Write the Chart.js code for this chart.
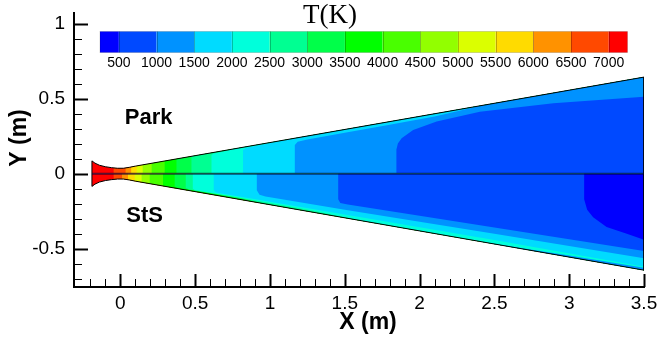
<!DOCTYPE html>
<html>
<head>
<meta charset="utf-8">
<script src="https://cdn.jsdelivr.net/npm/chart.js@4.4.0/dist/chart.umd.min.js"></script>
<style>
  body { margin: 0; background: #fff; }
  #wrap { width: 658px; height: 343px; }
</style>
</head>
<body>
<div id="wrap"><canvas id="myChart"></canvas></div>
<script>
// contour levels of T (K), one boundary between two colour bands each
const levels = [500, 1000, 1500, 2000, 2500, 3000, 3500, 4000, 4500, 5000, 5500, 6000, 6500, 7000];
// band colours, coldest (< 500 K) to hottest (> 7000 K)
const bandColors = ["#0000ff", "#0049ff", "#0092ff", "#00dbff", "#00ffdb", "#00ff92", "#00ff49",
  "#00ff00", "#49ff00", "#92ff00", "#dbff00", "#ffdb00", "#ff9200", "#ff4900", "#ff0000"];

// nozzle wall: radius (m) against axial position (m)
const wallX = [-0.19, -0.17, -0.14, -0.1, -0.06, -0.02, 0.02, 0.06, 0.1, 3.5];
const wallR = [0.085, 0.07, 0.056, 0.046, 0.04, 0.036, 0.036, 0.042, 0.05, 0.643];

// isotherms in the upper half (Park model), index = levels index
// [x, y] in m, y null = point sits on the wall
const parkEdges = [
  null,
  [[1.845, 0], [1.845, 0.16], [1.855, 0.2], [1.88, 0.235], [1.957, 0.29], [2.114, 0.347], [2.403, 0.413], [2.894, 0.469], [3.5, 0.513]],
  [[1.166, 0], [1.166, 0.19], [1.185, 0.213], [1.25, 0.228], [1.5, 0.272], [1.8, 0.325], [2.1, 0.38], [2.41, null]],
  [[0.82, 0], [0.82, 0.158], [0.84, 0.171], [0.9, 0.183], [1.2, null]],
  [[0.609, 0], [0.609, 0.125], [0.625, 0.135], [0.7, 0.15], [0.75, null]],
  [[0.475, 0], [0.475, null]],
  [[0.375, 0], [0.375, null]],
  [[0.296, 0], [0.296, null]],
  [[0.209, 0], [0.209, null]],
  [[0.149, 0], [0.149, null]],
  [[0.109, 0], [0.109, null]],
  [[0.072, 0], [0.072, null]],
  [[0.035, 0], [0.035, null]],
  [[-0.045, 0], [-0.045, null]]
];

// isotherms in the lower half (StS model)
const stsEdges = [
  [[3.1, 0], [3.1, -0.17], [3.12, -0.24], [3.16, -0.29], [3.25, -0.355], [3.385, -0.4], [3.5, -0.44]],
  [[1.456, 0], [1.456, -0.17], [1.47, -0.195], [1.52, -0.205], [2.0, -0.28], [2.67, -0.385], [3.5, -0.515]],
  [[0.912, 0], [0.912, -0.11], [0.93, -0.14], [0.97, -0.152], [1.5, -0.24], [2.5, -0.4], [3.5, -0.564]],
  [[0.624, 0], [0.624, -0.11], [0.64, -0.125], [0.7, -0.136], [1.5, -0.272], [2.5, -0.442], [3.5, -0.62]],
  [[0.484, 0], [0.484, -0.1], [0.5, -0.11], [0.7, -0.144], [1.0, -0.196], [1.3, -0.248], [1.6, null]],
  [[0.437, 0], [0.437, -0.095], [0.46, -0.105], [0.6, -0.128], [0.8, -0.16], [0.95, null]],
  [[0.363, 0], [0.363, -0.085], [0.38, -0.093], [0.5, -0.114], [0.65, -0.14], [0.78, null]],
  [[0.285, 0], [0.285, null]],
  [[0.196, 0], [0.196, null]],
  [[0.142, 0], [0.142, null]],
  [[0.096, 0], [0.096, null]],
  [[0.051, 0], [0.051, null]],
  [[0.011, 0], [0.011, null]],
  [[-0.045, 0], [-0.045, null]]
];
// cooler film (1000-1500 K) on the lower wall near the exit
const stsFilm = [[2.4, null], [3.0, -0.546], [3.5, -0.627], [3.5, null]];

const xTicks = [0, 0.5, 1, 1.5, 2, 2.5, 3, 3.5];
const yTicks = [-0.5, 0, 0.5, 1];

const FONT = "'Liberation Sans', Arial, sans-serif";
const exitX = wallX[wallX.length - 1];

function wallAt(x) {
  for (let i = 1; i < wallX.length; i++) {
    if (x <= wallX[i]) {
      const t = (x - wallX[i - 1]) / (wallX[i] - wallX[i - 1]);
      return wallR[i - 1] + t * (wallR[i] - wallR[i - 1]);
    }
  }
  return wallR[wallR.length - 1];
}

function toPoints(list, sign) {
  return list.map((p) => ({ x: p[0], y: p[1] === null ? sign * wallAt(p[0]) : p[1] }));
}

// closed outline of everything downstream / inside an isotherm
function region(edge, sign) {
  const pts = toPoints(edge, sign);
  const last = pts[pts.length - 1];
  if (last.x < exitX) {
    wallX.forEach((x, i) => {
      if (x > last.x) pts.push({ x: x, y: sign * wallR[i] });
    });
  }
  pts.push({ x: exitX, y: 0 });
  pts.push({ x: pts[0].x, y: pts[0].y });
  return pts;
}

function patch(pts, color) {
  return {
    data: pts,
    showLine: true,
    fill: "shape",
    backgroundColor: color,
    borderWidth: 0,
    pointRadius: 0,
  };
}

// hottest first, colder bands painted over them
const layers = [];
[[parkEdges, 1], [stsEdges, -1]].forEach(([edges, sign]) => {
  layers.push(patch(region([[wallX[0], 0], [wallX[0], null]], sign), bandColors[14]));
  for (let i = levels.length - 1; i >= 0; i--) {
    if (edges[i]) layers.push(patch(region(edges[i], sign), bandColors[i]));
  }
});
const film = toPoints(stsFilm, -1);
film.push(film[0]);
layers.push(patch(film, bandColors[2]));

// nozzle outline and symmetry line
const outline = [];
wallX.forEach((x, i) => outline.push({ x: x, y: wallR[i] }));
for (let i = wallX.length - 1; i >= 0; i--) outline.push({ x: wallX[i], y: -wallR[i] });
outline.push({ x: wallX[0], y: wallR[0] });
layers.push({ data: outline, showLine: true, fill: false, borderColor: "#000", borderWidth: 1, pointRadius: 0 });
layers.push({
  data: [{ x: wallX[0], y: 0 }, { x: exitX, y: 0 }],
  showLine: true, fill: false, borderColor: "rgba(0,0,50,0.65)", borderWidth: 2, pointRadius: 0,
});
// Chart.js paints dataset 0 last (on top)
const datasets = layers.reverse();

const decor = {
  id: "decor",
  afterDatasetsDraw(chart) {
    const { ctx, scales: { x, y } } = chart;
    ctx.save();
    ctx.fillStyle = "#000";
    ctx.font = "bold 22px " + FONT;
    ctx.textAlign = "left";
    ctx.textBaseline = "middle";
    ctx.fillText("Park", x.getPixelForValue(0.03), y.getPixelForValue(0.37));
    ctx.fillText("StS", x.getPixelForValue(0.04), y.getPixelForValue(-0.28));
    ctx.restore();
  },
  afterDraw(chart) {
    const { ctx, chartArea: a, scales: { x, y } } = chart;
    ctx.save();
    ctx.strokeStyle = "#000";
    // ticks point into the plot
    for (let k = -3; k <= 35; k++) {
      const px = Math.round(x.getPixelForValue(k / 10)) + 0.5;
      if (px < a.left + 2) continue;
      const major = k % 5 === 0;
      ctx.lineWidth = major ? 2 : 1;
      ctx.beginPath();
      ctx.moveTo(px, a.bottom);
      ctx.lineTo(px, a.bottom - (major ? 13 : 8));
      ctx.stroke();
    }
    for (let k = -7; k <= 10; k++) {
      const py = Math.round(y.getPixelForValue(k / 10)) + 0.5;
      const major = k % 5 === 0;
      ctx.lineWidth = major ? 2 : 1;
      ctx.beginPath();
      ctx.moveTo(a.left, py);
      ctx.lineTo(a.left + (major ? 14 : 8), py);
      ctx.stroke();
    }

    // axis titles
    ctx.fillStyle = "#000";
    ctx.font = "bold 23px " + FONT;
    ctx.textAlign = "center";
    ctx.textBaseline = "middle";
    ctx.fillText("X (m)", 368, 323);
    ctx.save();
    ctx.translate(20, 138);
    ctx.rotate(-Math.PI / 2);
    ctx.fillText("Y (m)", 0, 0);
    ctx.restore();

    // colour bar
    const cbLeft = 100, cbTop = 31.5, cbW = 527.5, cbH = 21;
    const lo = levels[0] - 250, hi = levels[levels.length - 1] + 250;
    const vx = (v) => cbLeft + ((v - lo) / (hi - lo)) * cbW;
    const edges = [lo].concat(levels, [hi]);
    for (let i = 0; i < bandColors.length; i++) {
      ctx.fillStyle = bandColors[i];
      ctx.fillRect(vx(edges[i]), cbTop, vx(edges[i + 1]) - vx(edges[i]), cbH);
    }
    ctx.strokeStyle = "rgba(0,0,0,0.25)";
    ctx.lineWidth = 1;
    levels.forEach((v) => {
      const px = Math.round(vx(v)) + 0.5;
      ctx.beginPath();
      ctx.moveTo(px, cbTop);
      ctx.lineTo(px, cbTop + cbH);
      ctx.stroke();
    });
    ctx.strokeStyle = "rgba(0,0,0,0.15)";
    ctx.strokeRect(cbLeft, cbTop, cbW, cbH);
    ctx.fillStyle = "#000";
    ctx.font = "14px " + FONT;
    levels.forEach((v) => ctx.fillText(String(v), vx(v), 63.5));

    ctx.font = "27px 'Liberation Serif', 'Times New Roman', serif";
    ctx.textBaseline = "alphabetic";
    ctx.fillText("T(K)", 330, 23);
    ctx.restore();
  },
};

function fixTicks(values) {
  return (scale) => {
    scale.ticks = values.map((v) => ({ value: v }));
  };
}

// no extra room for the end labels, the plot box is set by layout padding
function fitBox(s) {
  if (s.isHorizontal()) s.height = 56;
  else s.width = 74;
  s.paddingTop = 0;
  s.paddingBottom = 0;
  s.paddingLeft = 0;
  s.paddingRight = 0;
}

Chart.defaults.font.family = FONT;
Chart.defaults.color = "#000";

new Chart(document.getElementById("myChart"), {
  type: "scatter",
  data: { datasets: datasets },
  options: {
    responsive: true,
    maintainAspectRatio: false,
    animation: false,
    layout: { padding: { top: 13, right: 14, left: 0, bottom: 0 } },
    elements: { line: { tension: 0 } },
    plugins: { legend: { display: false }, tooltip: { enabled: false } },
    scales: {
      x: {
        type: "linear",
        min: -0.31,
        max: 3.5,
        afterBuildTicks: fixTicks(xTicks),
        afterFit: fitBox,
        grid: { display: false, drawTicks: false },
        border: { display: true, color: "#000", width: 2 },
        ticks: { font: { size: 19 }, padding: 5, maxRotation: 0, callback: (v) => String(v) },
      },
      y: {
        type: "linear",
        min: -0.755,
        max: 1.07,
        afterBuildTicks: fixTicks(yTicks),
        afterFit: fitBox,
        grid: { display: false, drawTicks: false },
        border: { display: true, color: "#000", width: 2 },
        ticks: { font: { size: 19 }, padding: 9, callback: (v) => String(v) },
      },
    },
  },
  plugins: [decor],
});
</script>
</body>
</html>
